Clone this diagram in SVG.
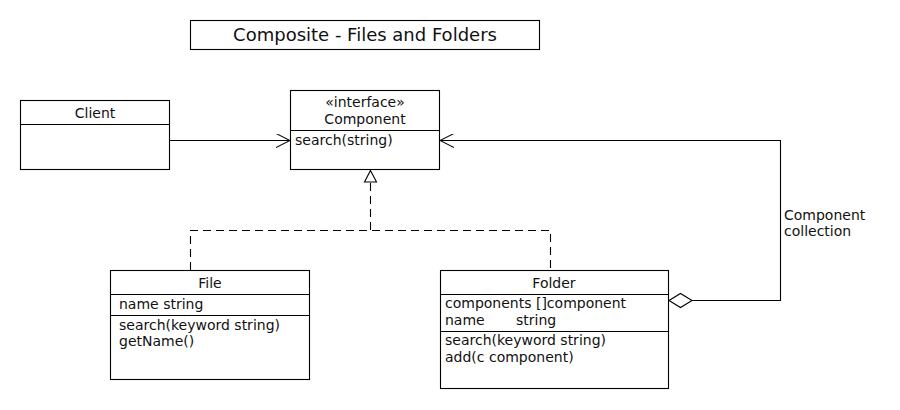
<svg xmlns="http://www.w3.org/2000/svg" width="900" height="410" viewBox="0 0 900 410">
<defs>
<style>
text{font-family:"DejaVu Sans","Liberation Sans",sans-serif;font-size:14px;fill:#111}
.box{fill:#fff;stroke:#000;stroke-width:1.1}
.ln{fill:none;stroke:#000;stroke-width:1.1}
.c{text-anchor:middle}
.dash{fill:none;stroke:#000;stroke-width:1.1;stroke-dasharray:8,5}
</style>
<marker id="open" viewBox="0 0 14 14" refX="14" refY="7" markerWidth="14" markerHeight="14" markerUnits="userSpaceOnUse" orient="auto">
<path d="M0,0 L14,7 L0,14" fill="none" stroke="#000" stroke-width="1.1"/>
</marker>
</defs>
<rect width="900" height="410" fill="#fff"/>
<g id="title">
<rect class="box" x="190.5" y="20.5" width="349" height="29"/>
<text class="c" x="365" y="41" style="font-size:18px">Composite - Files and Folders</text>
</g>
<g id="connectors">
<line class="ln" x1="169" y1="140.5" x2="290" y2="140.5" marker-end="url(#open)"/>
<polyline class="ln" points="692,300.5 780.5,300.5 780.5,140.5 440,140.5" marker-end="url(#open)"/>
<path d="M669,300.5 L680.5,293.5 L692,300.5 L680.5,307.5 Z" fill="#fff" stroke="#000" stroke-width="1.1"/>
<polyline class="dash" points="190.5,270 190.5,230.5 550.5,230.5 550.5,270"/>
<line class="dash" x1="370.5" y1="230" x2="370.5" y2="182"/>
<path d="M370.5,170.5 L376.5,182 L364.5,182 Z" fill="#fff" stroke="#000" stroke-width="1.1"/>
<text x="784" y="220">Component</text>
<text x="784" y="236">collection</text>
</g>
<g id="client">
<rect class="box" x="20.5" y="100.5" width="149" height="69"/>
<line class="ln" x1="20" y1="124.5" x2="170" y2="124.5"/>
<text class="c" x="95" y="118">Client</text>
</g>
<g id="component">
<rect class="box" x="290.5" y="90.5" width="149" height="79"/>
<line class="ln" x1="290" y1="130.5" x2="440" y2="130.5"/>
<text class="c" x="365" y="107">«interface»</text>
<text class="c" x="365" y="124">Component</text>
<text x="295" y="145">search(string)</text>
</g>
<g id="file">
<rect class="box" x="110.5" y="270.5" width="199" height="109"/>
<line class="ln" x1="110" y1="294.5" x2="310" y2="294.5"/>
<line class="ln" x1="110" y1="315.5" x2="310" y2="315.5"/>
<text class="c" x="210" y="288">File</text>
<text x="119" y="309">name string</text>
<text x="119" y="330">search(keyword string)</text>
<text x="119" y="346">getName()</text>
</g>
<g id="folder">
<rect class="box" x="440.5" y="270.5" width="228" height="118"/>
<line class="ln" x1="440" y1="294.5" x2="669" y2="294.5"/>
<line class="ln" x1="440" y1="331.5" x2="669" y2="331.5"/>
<text class="c" x="554" y="288">Folder</text>
<text x="445" y="308">components []component</text>
<text x="445" y="325">name</text>
<text x="516" y="325">string</text>
<text x="445" y="345">search(keyword string)</text>
<text x="445" y="362">add(c component)</text>
</g>
</svg>
